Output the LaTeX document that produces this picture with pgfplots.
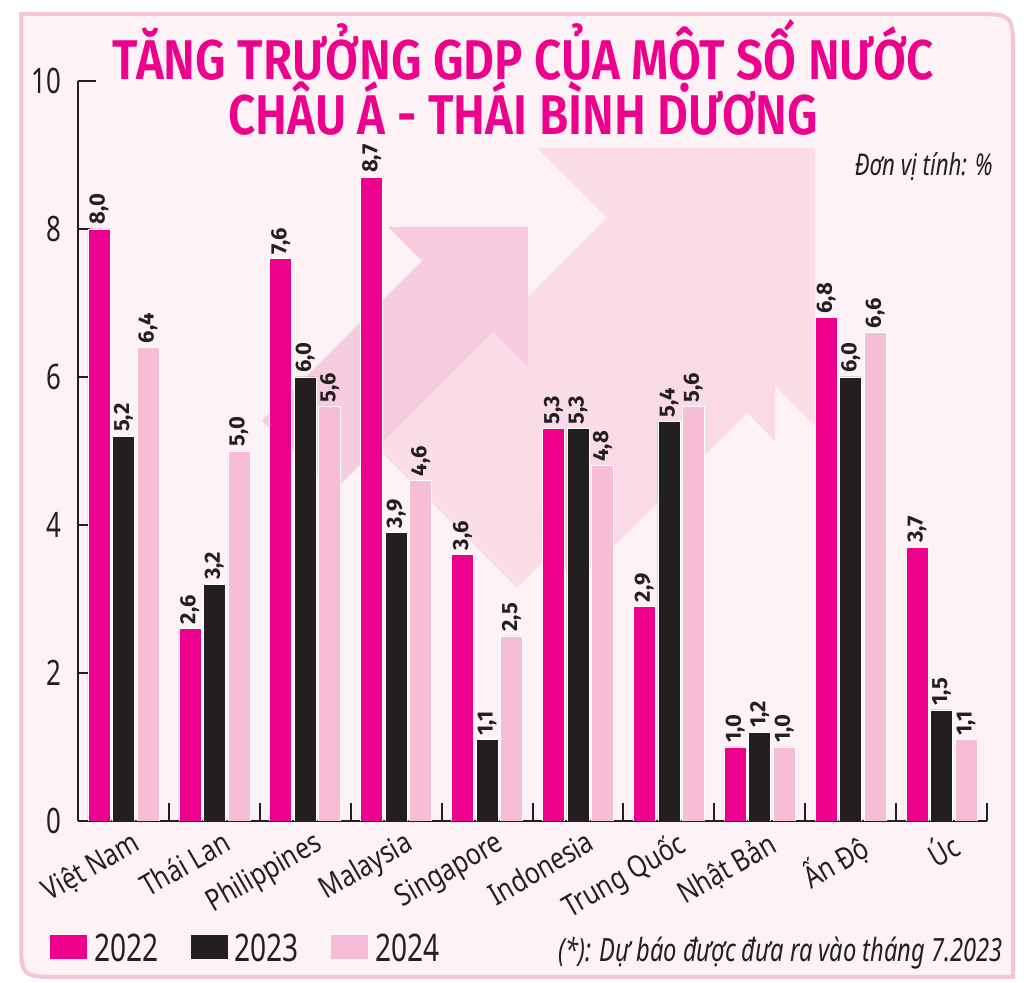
\documentclass[border=0pt]{standalone}
\usepackage{fontspec}
\setmainfont{Noto Sans}
\newfontfamily\cond[FakeStretch=0.74]{Noto Sans}
\newfontfamily\condx[FakeStretch=0.82]{Noto Sans}
\newfontfamily\titlef[FakeStretch=0.85]{Fira Sans SemiBold}
\newfontfamily\valf{Fira Sans}
\usepackage{pgfplots}
\usepackage{pgfplotstable}
\pgfplotsset{compat=1.18}
\definecolor{mag}{HTML}{EC008C}
\definecolor{blk}{HTML}{231F20}
\definecolor{lpink}{HTML}{F7BCD6}
\definecolor{bg}{HTML}{FDF2F6}
\definecolor{framec}{HTML}{F8C4DA}
\definecolor{arA}{HTML}{F8CCDF}
\definecolor{arB}{HTML}{FBDDE9}
\definecolor{arC}{HTML}{FADAE7}

\pgfplotstableread{
x y
0 8.0
1 2.6
2 7.6
3 8.7
4 3.6
5 5.3
6 2.9
7 1.0
8 6.8
9 3.7
}\dataA
\pgfplotstableread{
x y
0 5.2
1 3.2
2 6.0
3 3.9
4 1.1
5 5.3
6 5.4
7 1.2
8 6.0
9 1.5
}\dataB
\pgfplotstableread{
x y
0 6.4
1 5.0
2 5.6
3 4.6
4 2.5
5 4.8
6 5.6
7 1.0
8 6.6
9 1.1
}\dataC

\begin{document}
\begin{tikzpicture}
\path[use as bounding box] (0,0) rectangle (512pt,491.5pt);
\begin{scope}[x=0.5pt,y=-0.5pt,yshift=491.5pt]
  \fill[white] (0,0) rectangle (1024,983);
  \draw[draw=framec, line width=2pt, fill=bg] (21,14) -- (973,14) .. controls (1013,14) .. (1013,54) -- (1013,977) -- (61,977) .. controls (21,977) .. (21,937) -- cycle;
  % background arrows (decoration)
  \fill[arB] (815,148) -- (537,148) -- (607,218) -- (377,448) -- (517,588) -- (747,358) -- (815,426) -- cycle;
  \fill[arC] (775,328) -- (662,328) -- (690,356) -- (520,526) -- (577,583) -- (747,413) -- (775,441) -- cycle;
  \fill[arA] (528,227) -- (388,227) -- (422,261) -- (262,421) -- (333,492) -- (493,332) -- (528,367) -- cycle;
  % texts
  \node[anchor=base, text=mag, inner sep=0pt, font=\titlef\fontsize{28}{28}\selectfont] at (523.5,80) {TĂNG TRƯỞNG GDP CỦA MỘT SỐ NƯỚC};
  \node[anchor=base, text=mag, inner sep=0pt, font=\titlef\fontsize{28}{28}\selectfont] at (523.5,135) {CHÂU Á - THÁI BÌNH DƯƠNG};
  \node[anchor=base east, text=blk, inner sep=0pt, font=\cond\itshape\fontsize{15}{15}\selectfont] at (993,176) {Đơn vị tính: \%};
  \node[anchor=base east, text=blk, inner sep=0pt, font=\cond\itshape\fontsize{16}{16}\selectfont] at (1003,962) {(*): Dự báo được đưa ra vào tháng 7.2023};
\end{scope}
\begin{axis}[
  at={(39pt,81pt)}, anchor=south west,
  scale only axis, width=454.5pt, height=370pt,
  xmin=-0.5, xmax=9.5, ymin=0, ymax=10,
  axis x line*=bottom, axis y line*=left,
  axis line style={line width=1pt, draw=blk},
  ybar, bar width=11pt,
  tick align=inside,
  major tick length=9pt,
  tick style={line width=1pt, draw=blk},
  xtick={0.5,1.5,...,9.5}, xticklabels={},
  extra x ticks={0,1,2,3,4,5,6,7,8,9},
  extra x tick labels={Việt Nam,Thái Lan,Philippines,Malaysia,Singapore,Indonesia,Trung Quốc,Nhật Bản,Ấn Độ,Úc},
  extra x tick style={major tick length=0pt, tick style={draw=none}},
  x tick label style={rotate=30, anchor=north east, inner sep=0pt, yshift=-5pt, xshift=1pt, font=\condx\fontsize{15}{15}\selectfont, text=blk},
  ytick={10},
  extra y ticks={0,2,4,6,8},
  extra y tick style={major tick length=6pt},
  y tick label style={anchor=east, inner sep=0pt, xshift=-8pt, font=\cond\fontsize{17.5}{17.5}\selectfont, text=blk, /pgf/number format/assume math mode=true},
  nodes near coords={\pgfmathprintnumber[assume math mode=true,fixed,fixed zerofill,precision=1,use comma]{\pgfplotspointmeta}},
  nodes near coords style={rotate=90, anchor=west, inner sep=2pt, text=blk, font=\valf\bfseries\fontsize{11}{11}\selectfont},
  legend columns=3,
  legend style={at={(-0.0308,-0.173)}, anchor=west, draw=none, fill=none, inner sep=0pt,
    font=\cond\fontsize{19}{19}\selectfont, text=blk,
    /tikz/every odd column/.append style={column sep=1.5pt},
    /tikz/every even column/.append style={column sep=14pt}},
  legend image code/.code={\path[#1, draw=none] (0pt,-5pt) rectangle (18.5pt,7pt);},
]
\addplot[fill=mag, draw=white, line width=0.3pt, bar shift=-12.25pt] table[x=x,y=y]{\dataA};
\addplot[fill=blk, draw=white, line width=0.3pt, bar shift=0pt] table[x=x,y=y]{\dataB};
\addplot[fill=lpink, draw=white, line width=0.3pt, bar shift=12.25pt] table[x=x,y=y]{\dataC};
\legend{2022,2023,2024}
\end{axis}
\end{tikzpicture}
\end{document}
